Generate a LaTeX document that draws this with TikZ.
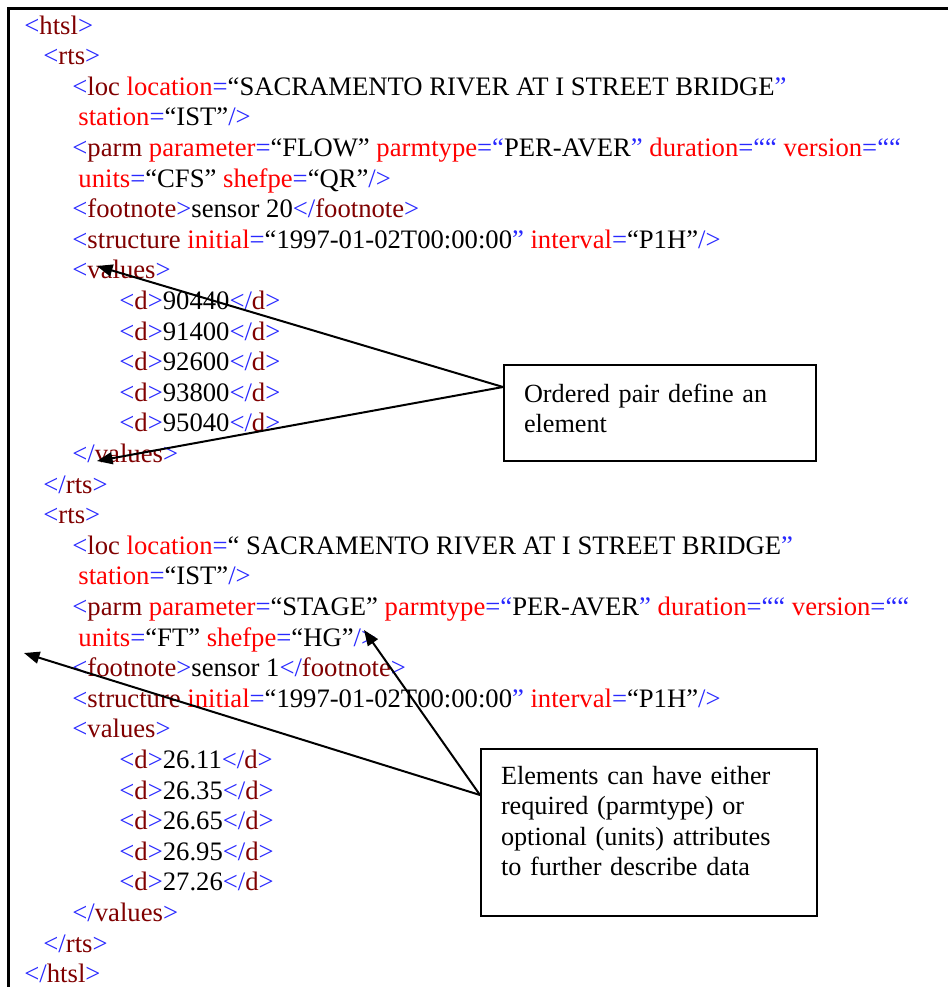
\documentclass[tikz,border=0pt]{standalone}
\usepackage{fontspec}
\setmainfont{Liberation Serif}
\usetikzlibrary{arrows.meta,calc}
\definecolor{xblue}{RGB}{40,40,255}
\definecolor{xmaroon}{RGB}{128,0,0}
\definecolor{xred}{RGB}{255,0,0}
\newcommand\cB[1]{\textcolor{xblue}{#1}}
\newcommand\cM[1]{\textcolor{xmaroon}{#1}}
\newcommand\cR[1]{\textcolor{xred}{#1}}
\begin{document}
\begin{tikzpicture}[x=0.45pt,y=-0.45pt,
  font=\fontsize{12pt}{13.77pt}\selectfont,
  code/.style={anchor=base west, inner sep=0pt},
  note/.style={draw, line width=0.9pt, anchor=north west, align=left,
    inner xsep=9pt, inner ysep=0pt, font=\fontsize{11.8pt}{13.77pt}\selectfont},
  pointer/.style={line width=0.9pt, -{Triangle[length=7pt,width=5.4pt]}}]
\fill[white] (0,0) rectangle (948,987);
\useasboundingbox (0,0) rectangle (948,987);
% frame
\draw[line width=1.6pt] (8.5,987) -- (8.5,8.5) -- (948,8.5);
% first rts block
\node[code] (l1)  at (24,34)    {\cB{<}\cM{htsl}\cB{>}};
\node[code] (l2)  at (43,64.6)  {\cB{<}\cM{rts}\cB{>}};
\node[code] (l3)  at (72,95.2)  {\cB{<}\cM{loc} \cR{location}\cB{=}“SACRAMENTO RIVER AT I STREET BRIDGE\cB{”}};
\node[code] (l4)  at (78,125.8) {\cR{station}\cB{=}“IST”\cB{/>}};
\node[code] (l5)  at (72,156.4) {\cB{<}\cM{parm} \cR{parameter}\cB{=}“FLOW” \cR{parmtype}\cB{=“}PER-AVER\cB{”} \cR{duration}\cB{=““} \cR{version}\cB{=““}};
\node[code] (l6)  at (78,187)   {\cR{units}\cB{=}“CFS” \cR{shefpe}\cB{=}“QR”\cB{/>}};
\node[code] (l7)  at (72,217.6) {\cB{<}\cM{footnote}\cB{>}sensor 20\cB{</}\cM{footnote}\cB{>}};
\node[code] (l8)  at (72,248.2) {\cB{<}\cM{structure} \cR{initial}\cB{=}“1997-01-02T00:00:00\cB{”} \cR{interval}\cB{=}“P1H”\cB{/>}};
\node[code] (l9)  at (72,278.8) {\cB{<}\cM{values}\cB{>}};
\node[code] (l10) at (119,309.4) {\cB{<}\cM{d}\cB{>}90440\cB{</}\cM{d}\cB{>}};
\node[code] (l11) at (119,340)   {\cB{<}\cM{d}\cB{>}91400\cB{</}\cM{d}\cB{>}};
\node[code] (l12) at (119,370.6) {\cB{<}\cM{d}\cB{>}92600\cB{</}\cM{d}\cB{>}};
\node[code] (l13) at (119,401.2) {\cB{<}\cM{d}\cB{>}93800\cB{</}\cM{d}\cB{>}};
\node[code] (l14) at (119,431.8) {\cB{<}\cM{d}\cB{>}95040\cB{</}\cM{d}\cB{>}};
\node[code] (l15) at (72,462.4) {\cB{</}\cM{values}\cB{>}};
\node[code] (l16) at (43,493)   {\cB{</}\cM{rts}\cB{>}};
% second rts block
\node[code] (l17) at (43,523.6) {\cB{<}\cM{rts}\cB{>}};
\node[code] (l18) at (72,554.2) {\cB{<}\cM{loc} \cR{location}\cB{=}“ SACRAMENTO RIVER AT I STREET BRIDGE\cB{”}};
\node[code] (l19) at (78,584.8) {\cR{station}\cB{=}“IST”\cB{/>}};
\node[code] (l20) at (72,615.4) {\cB{<}\cM{parm} \cR{parameter}\cB{=}“STAGE” \cR{parmtype}\cB{=“}PER-AVER\cB{”} \cR{duration}\cB{=““} \cR{version}\cB{=““}};
\node[code] (l21) at (78,646)   {\cR{units}\cB{=}“FT” \cR{shefpe}\cB{=}“HG”\cB{/>}};
\node[code] (l22) at (72,676.6) {\cB{<}\cM{footnote}\cB{>}sensor 1\cB{</}\cM{footnote}\cB{>}};
\node[code] (l23) at (72,707.2) {\cB{<}\cM{structure} \cR{initial}\cB{=}“1997-01-02T00:00:00\cB{”} \cR{interval}\cB{=}“P1H”\cB{/>}};
\node[code] (l24) at (72,737.8) {\cB{<}\cM{values}\cB{>}};
\node[code] (l25) at (119,768.4) {\cB{<}\cM{d}\cB{>}26.11\cB{</}\cM{d}\cB{>}};
\node[code] (l26) at (119,799)   {\cB{<}\cM{d}\cB{>}26.35\cB{</}\cM{d}\cB{>}};
\node[code] (l27) at (119,829.6) {\cB{<}\cM{d}\cB{>}26.65\cB{</}\cM{d}\cB{>}};
\node[code] (l28) at (119,860.2) {\cB{<}\cM{d}\cB{>}26.95\cB{</}\cM{d}\cB{>}};
\node[code] (l29) at (119,890.8) {\cB{<}\cM{d}\cB{>}27.26\cB{</}\cM{d}\cB{>}};
\node[code] (l30) at (72,921.4) {\cB{</}\cM{values}\cB{>}};
\node[code] (l31) at (43,952)   {\cB{</}\cM{rts}\cB{>}};
\node[code] (l32) at (24,982.6) {\cB{</}\cM{htsl}\cB{>}};
% callout boxes
\node[note, text width=122.4pt, text height=16.65pt, text depth=26.55pt] (ob) at (503,364)
  {Ordered pair define an\\element};
\node[note, text width=133.2pt, text height=15.75pt, text depth=59.4pt] (eb) at (480,748)
  {Elements can have either\\required (parmtype) or\\optional (units) attributes\\to further describe data};
% pointer targets
\coordinate (t1) at (97,266);
\coordinate (t2) at (97,461);
\coordinate (t3) at (24,653);
\coordinate (t4) at (364,630);
\draw[pointer] ($(ob.north west)+(0,23)$) -- (t1);
\draw[pointer] ($(ob.north west)+(0,23)$) -- (t2);
\draw[pointer] ($(eb.north west)+(0,47)$) -- (t3);
\draw[pointer] ($(eb.north west)+(0,47)$) -- (t4);
\end{tikzpicture}
\end{document}
